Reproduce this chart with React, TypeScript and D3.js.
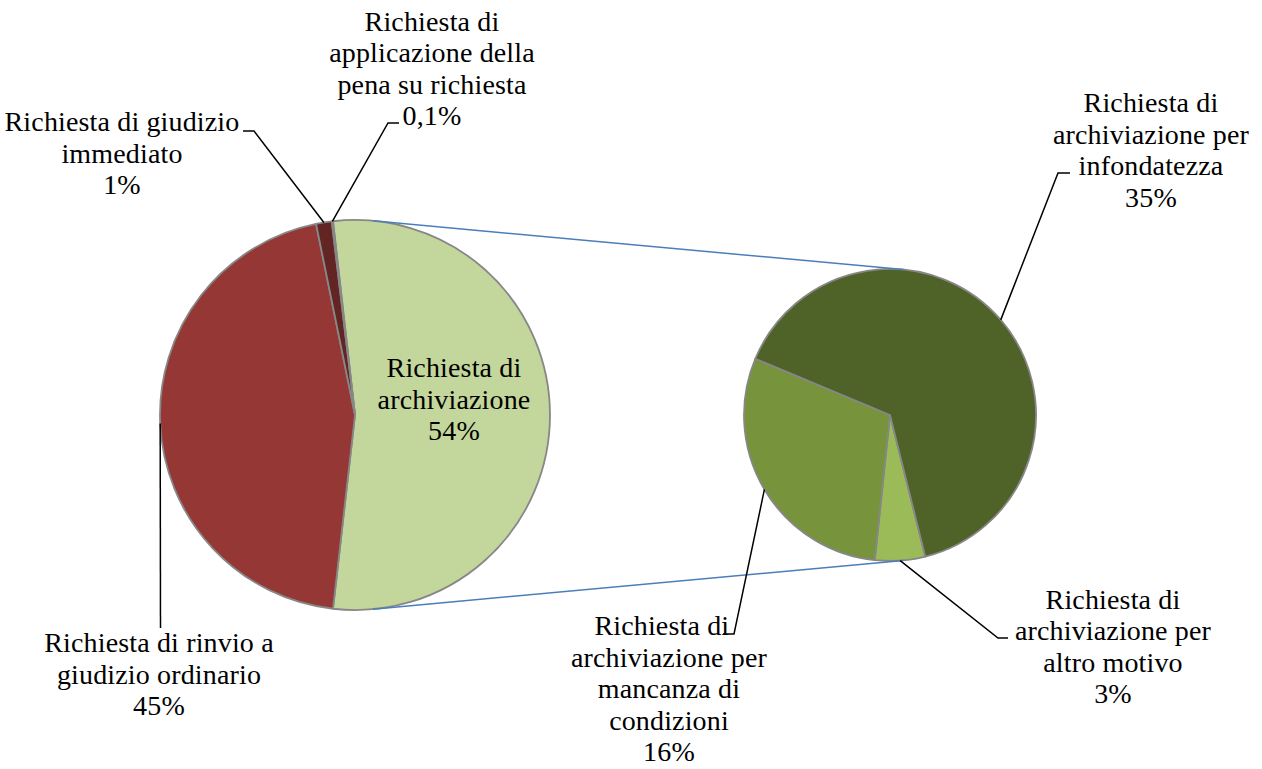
import React, { useEffect, useRef } from "react";
import * as d3 from "d3";

// first pie: all requests
const mainNames = [
  ["Richiesta di", "archiviazione"],
  ["Richiesta di rinvio a", "giudizio ordinario"],
  ["Richiesta di giudizio", "immediato"],
  ["Richiesta di", "applicazione della", "pena su richiesta"],
];
const mainValues = [53.6, 45.0, 1.3, 0.1];
const mainPct = ["54%", "45%", "1%", "0,1%"];
const mainColors = ["#C3D69B", "#953735", "#632523", "#D99694"];

// second pie: breakdown of "archiviazione"
const subNames = [
  ["Richiesta di", "archiviazione per", "altro motivo"],
  ["Richiesta di\u00A0\u00A0", "archiviazione per", "mancanza di", "condizioni"],
  ["Richiesta di", "archiviazione per", "infondatezza"],
];
const subValues = [3, 16, 35];
const subPct = ["3%", "16%", "35%"];
const subColors = ["#9BBB59", "#77933C", "#4F6228"];

const W = 1262;
const H = 769;
const LH = 31.5;

function App() {
  const ref = useRef<SVGSVGElement>(null);

  useEffect(() => {
    const svg = d3.select(ref.current);
    svg.selectAll("*").remove();

    const c1 = { x: 355, y: 415, r: 195 };
    const c2 = { x: 890, y: 415, r: 146 };
    const deg = Math.PI / 180;

    // split slice centred on the right side (90deg)
    const arcSpan = (mainValues[0] / d3.sum(mainValues)) * 2 * Math.PI;
    const start1 = Math.PI / 2 - arcSpan / 2;
    const pie1 = d3.pie<number>().sort(null).value((d) => d)
      .startAngle(start1).endAngle(start1 + 2 * Math.PI);
    const pie2 = d3.pie<number>().sort(null).value((d) => d)
      .startAngle(166 * deg).endAngle(166 * deg + 2 * Math.PI);

    const arc1 = d3.arc<d3.PieArcDatum<number>>().innerRadius(0).outerRadius(c1.r);
    const arc2 = d3.arc<d3.PieArcDatum<number>>().innerRadius(0).outerRadius(c2.r);

    const a1 = pie1(mainValues);
    const a2 = pie2(subValues);

    const g1 = svg.append("g").attr("transform", `translate(${c1.x},${c1.y})`);
    g1.selectAll("path").data(a1).enter().append("path")
      .attr("d", arc1)
      .attr("fill", (d, i) => mainColors[i])
      .attr("stroke", "#878787")
      .attr("stroke-width", 1.8)
      .attr("stroke-linejoin", "round");

    const g2 = svg.append("g").attr("transform", `translate(${c2.x},${c2.y})`);
    g2.selectAll("path").data(a2).enter().append("path")
      .attr("d", arc2)
      .attr("fill", (d, i) => subColors[i])
      .attr("stroke", "#878787")
      .attr("stroke-width", 1.8)
      .attr("stroke-linejoin", "round");

    // connector lines = outer tangents of the two circles
    const dist = c2.x - c1.x;
    const th = Math.acos((c1.r - c2.r) / dist);
    [-1, 1].forEach((s) => {
      svg.append("line")
        .attr("x1", c1.x + c1.r * Math.cos(th))
        .attr("y1", c1.y + s * c1.r * Math.sin(th))
        .attr("x2", c2.x + c2.r * Math.cos(th))
        .attr("y2", c2.y + s * c2.r * Math.sin(th))
        .attr("stroke", "#4A7EBB")
        .attr("stroke-width", 1.5);
    });

    // point on the rim at the slice middle
    const rim = (d: d3.PieArcDatum<number>, c: { x: number; y: number; r: number }) => {
      const m = (d.startAngle + d.endAngle) / 2;
      return [c.x + c.r * Math.sin(m), c.y - c.r * Math.cos(m)];
    };

    const drawLabel = (lines: string[], x: number, y0: number) => {
      const t = svg.append("text")
        .attr("text-anchor", "middle")
        .attr("font-family", "'Liberation Serif', serif")
        .attr("font-size", 28)
        .attr("letter-spacing", 0.15)
        .attr("fill", "#000");
      lines.forEach((l, i) => {
        t.append("tspan").attr("x", x).attr("y", y0 + i * LH).text(l);
      });
    };

    const leader = (pts: number[][]) => {
      svg.append("path")
        .attr("d", d3.line()(pts as [number, number][]))
        .attr("fill", "none")
        .attr("stroke", "#000")
        .attr("stroke-width", 1.5);
    };

    // label layout: centre x, first baseline, elbow + end of the leader
    const mainLayout = [
      { x: 454, y: 377, path: null },
      { x: 159, y: 652, path: [[160.5, 628]] },
      { x: 122, y: 131, path: [[254, 131], [243, 131]] },
      { x: 432, y: 30.5, path: [[388, 123], [399, 123]] },
    ];
    const subLayout = [
      { x: 1113, y: 608.5, path: [[998, 638], [1008, 638]] },
      { x: 669, y: 635, path: [[734, 634], [723, 634]] },
      { x: 1151, y: 112, path: [[1058, 173], [1070, 173]] },
    ];

    a1.forEach((d, i) => {
      const L = mainLayout[i];
      if (L.path) leader([rim(d, c1), ...L.path]);
      drawLabel([...mainNames[i], mainPct[i]], L.x, L.y);
    });
    a2.forEach((d, i) => {
      const L = subLayout[i];
      if (L.path) leader([rim(d, c2), ...L.path]);
      drawLabel([...subNames[i], subPct[i]], L.x, L.y);
    });
  }, []);

  return (
    <svg ref={ref} width={W} height={H}
      style={{ position: "absolute", left: 0, top: 0, background: "#fff" }} />
  );
}

export default App;
